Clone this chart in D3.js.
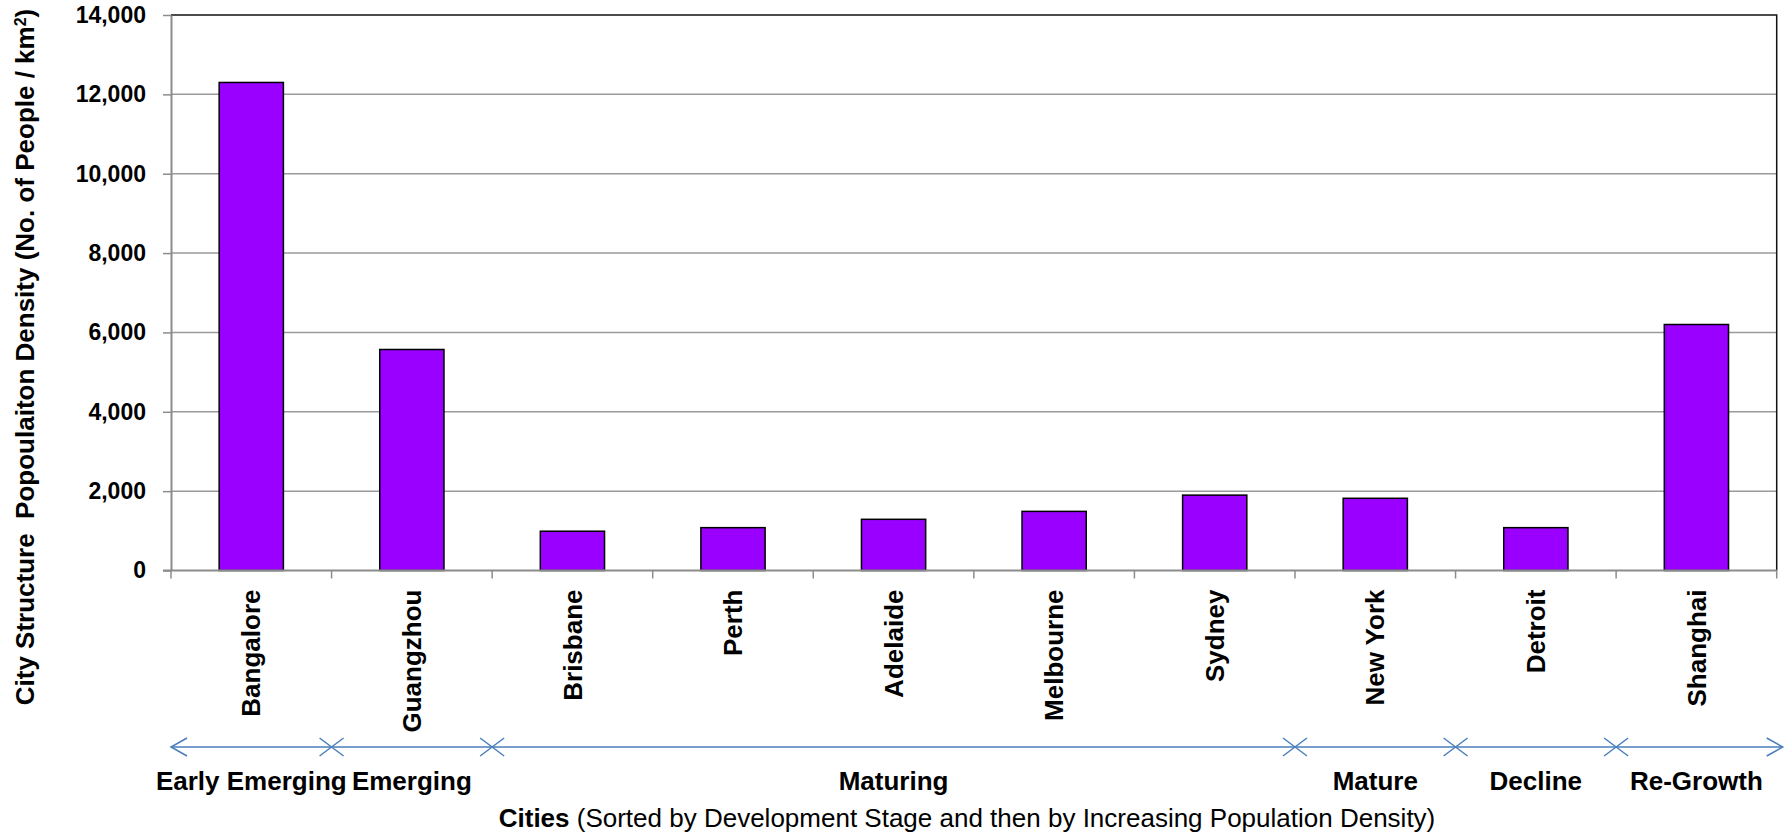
<!DOCTYPE html>
<html>
<head>
<meta charset="utf-8">
<script src="https://cdn.jsdelivr.net/npm/d3@7"></script>
<style>
  body { margin: 0; background: #fff; }
  svg text { font-family: "Liberation Sans", Arial, sans-serif; fill: #000; }
</style>
</head>
<body>
<div id="chart"></div>
<script>
const cities = ["Bangalore", "Guangzhou", "Brisbane", "Perth", "Adelaide", "Melbourne", "Sydney", "New York", "Detroit", "Shanghai"];
const density = [12300, 5570, 990, 1080, 1290, 1490, 1900, 1820, 1080, 6200];
const stages = ["Early Emerging", "Emerging", "Maturing", "Mature", "Decline", "Re-Growth"];
const stageCityCount = [1, 1, 5, 1, 1, 1];
const yTicks = [0, 2000, 4000, 6000, 8000, 10000, 12000, 14000];

(function(){
  const width = 1792, height = 836;
  const plot = { left: 171, right: 1776.7, top: 15, bottom: 570.5 };

  const svg = d3.select("#chart").append("svg")
    .attr("width", width)
    .attr("height", height);

  const x = d3.scaleBand()
    .domain(cities)
    .range([plot.left, plot.right])
    .padding(0);

  const y = d3.scaleLinear()
    .domain([0, 14000])
    .range([plot.bottom, plot.top]);

  // gridlines
  svg.append("g")
    .selectAll("line")
    .data(yTicks.filter(d => d > 0 && d < 14000))
    .enter()
    .append("line")
    .attr("x1", plot.left)
    .attr("x2", plot.right)
    .attr("y1", d => y(d))
    .attr("y2", d => y(d))
    .style("stroke", "#9a9a9a")
    .style("stroke-width", 1.5);

  // top and right border
  svg.append("path")
    .attr("d", `M${plot.left},${y(14000)}H${plot.right}V${plot.bottom}`)
    .style("fill", "none")
    .style("stroke", "#111")
    .style("stroke-width", 1.5);

  // bars
  const bw = x.bandwidth() * 0.4;
  svg.append("g")
    .selectAll("rect")
    .data(cities)
    .enter()
    .append("rect")
    .attr("x", d => x(d) + (x.bandwidth() - bw) / 2)
    .attr("y", (d, i) => y(density[i]))
    .attr("width", bw)
    .attr("height", (d, i) => y(0) - y(density[i]))
    .style("fill", "#9900ff")
    .style("stroke", "#000")
    .style("stroke-width", 1.5);

  // y axis
  const yAxis = svg.append("g")
    .attr("transform", `translate(${plot.left},0)`)
    .call(d3.axisLeft(y).tickValues(yTicks).tickFormat(d3.format(",")).tickSize(8).tickSizeOuter(0).tickPadding(17));
  yAxis.select(".domain").style("stroke", "#8c8c8c").style("stroke-width", 2);
  yAxis.selectAll(".tick line").style("stroke", "#8c8c8c").style("stroke-width", 1.5);
  yAxis.selectAll(".tick text")
    .style("font-size", "23px")
    .style("font-weight", "bold")
    .style("font-family", "'Liberation Sans', Arial, sans-serif")
    .style("fill", "#000");

  // x axis line + boundary ticks
  svg.append("line")
    .attr("x1", plot.left - 8)
    .attr("x2", plot.right)
    .attr("y1", y(0))
    .attr("y2", y(0))
    .style("stroke", "#8c8c8c")
    .style("stroke-width", 2);

  const bounds = cities.map(c => x(c)).concat([plot.right]);
  svg.append("g")
    .selectAll("line")
    .data(bounds)
    .enter()
    .append("line")
    .attr("x1", d => d)
    .attr("x2", d => d)
    .attr("y1", y(0))
    .attr("y2", y(0) + 8)
    .style("stroke", "#8c8c8c")
    .style("stroke-width", 1.5);

  // category labels
  svg.append("g")
    .selectAll("text")
    .data(cities)
    .enter()
    .append("text")
    .attr("transform", d => `translate(${x(d) + x.bandwidth() / 2},${y(0) + 19}) rotate(-90)`)
    .attr("dy", "0.35em")
    .attr("text-anchor", "end")
    .style("font-size", "26px")
    .style("font-weight", "bold")
    .text(d => d);

  // y axis title
  const yt = svg.append("text")
    .attr("transform", "translate(34,357) rotate(-90)")
    .attr("text-anchor", "middle")
    .style("font-size", "26px")
    .style("font-weight", "bold");
  yt.append("tspan").text("City Structure\u00a0\u00a0Popoulaiton Density (No. of People / km");
  yt.append("tspan").attr("baseline-shift", "super").style("font-size", "16px").text("2");
  yt.append("tspan").text(")");

  // development stage arrow
  const lineY = 747;
  const blue = "#4a7ebb";
  let idx = 0;
  const segs = stages.map((s, i) => {
    const x0 = idx === 0 ? plot.left : x(cities[idx]);
    idx += stageCityCount[i];
    const x1 = idx >= cities.length ? plot.right + 6 : x(cities[idx]);
    return { stage: s, x0: x0, x1: x1 };
  });

  const arrow = svg.append("g")
    .style("stroke", blue)
    .style("stroke-width", 1.5)
    .style("fill", "none");

  arrow.append("line")
    .attr("x1", segs[0].x0)
    .attr("x2", segs[segs.length - 1].x1)
    .attr("y1", lineY)
    .attr("y2", lineY);

  // arrow heads
  const ah = 16, av = 9;
  arrow.append("path")
    .attr("d", `M${segs[0].x0 + ah},${lineY - av}L${segs[0].x0},${lineY}L${segs[0].x0 + ah},${lineY + av}`);
  const xe = segs[segs.length - 1].x1;
  arrow.append("path")
    .attr("d", `M${xe - ah},${lineY - av}L${xe},${lineY}L${xe - ah},${lineY + av}`);

  // x markers between stages
  arrow.selectAll(".cross")
    .data(segs.slice(1))
    .enter()
    .append("path")
    .attr("class", "cross")
    .attr("d", d => `M${d.x0 - 12},${lineY - 9}L${d.x0 + 12},${lineY + 9}M${d.x0 - 12},${lineY + 9}L${d.x0 + 12},${lineY - 9}`);

  // stage labels
  svg.append("g")
    .selectAll("text")
    .data(segs)
    .enter()
    .append("text")
    .attr("x", d => (d.x0 + Math.min(d.x1, plot.right)) / 2)
    .attr("y", 790)
    .attr("text-anchor", "middle")
    .style("font-size", "26px")
    .style("font-weight", "bold")
    .text(d => d.stage);

  // x axis title
  const xt = svg.append("text")
    .attr("x", 967)
    .attr("y", 827)
    .attr("text-anchor", "middle")
    .style("font-size", "26px");
  xt.append("tspan").style("font-weight", "bold").text("Cities");
  xt.append("tspan").text(" (Sorted by Development Stage and then by Increasing Population Density)");
})();
</script>
</body>
</html>
